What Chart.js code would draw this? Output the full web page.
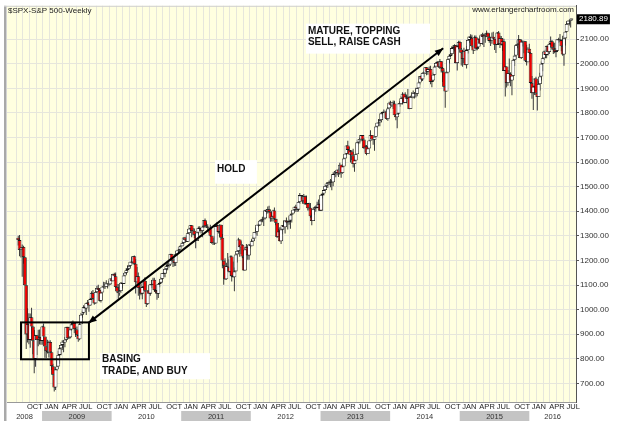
<!DOCTYPE html>
<html>
<head>
<meta charset="utf-8">
<script src="https://cdn.jsdelivr.net/npm/chart.js@4.4.1/dist/chart.umd.min.js"></script>
<style>
  html, body { margin: 0; padding: 0; background: #fff; }
  #wrap { width: 622px; height: 428px; }
</style>
</head>
<body>
<div id="wrap"><canvas id="spx" width="622" height="428"></canvas></div>
<script>
// Weekly $SPX candles, week 0 = week ending Aug 29 2008, last = partial week of Aug 8 2016
const firstWeek = Date.UTC(2008, 7, 29);
const firstOpen = 1292.2;

const weekCloses = [
  // 2008
  1282.8,1242.3,1251.7,1255.1,1213.3,1099.2,899.2,940.6,876.8,968.8,931.0,873.3,800.0,896.2,876.1,879.7,887.9,872.8,
  // 2009
  931.8,890.4,850.1,832.0,825.9, 868.6,826.8,770.1,735.1, 683.4,756.6,768.5,815.9, 842.5,856.6,869.6,866.2,
  877.5,929.2,882.9,887.0,919.1, 940.1,946.2,921.2,918.9, 896.4,879.1,940.4,979.3,987.5, 1010.5,1004.1,1026.1,1028.9,
  1016.4,1042.7,1068.3,1044.4, 1025.2,1071.5,1087.7,1079.6,1036.2, 1069.3,1093.5,1091.4,1091.5, 1106.0,1106.4,1102.5,1126.5,1115.1,
  // 2010
  1145.0,1136.0,1091.8,1073.9, 1066.2,1075.5,1109.2,1104.5, 1138.7,1150.0,1159.9,1166.6, 1178.1,1194.4,1192.1,1217.3,1186.7,
  1110.9,1135.7,1087.7,1089.4, 1064.9,1091.6,1117.5,1076.8, 1022.6,1078.0,1064.9,1102.7,1101.6, 1121.6,1079.3,1071.7,1064.6,
  1104.5,1109.6,1125.6,1148.7, 1146.2,1165.2,1176.2,1183.1,1183.3, 1225.9,1199.2,1199.7,1189.4, 1224.7,1240.4,1243.9,1256.8,1257.6,
  // 2011
  1271.5,1293.2,1283.4,1276.3, 1310.9,1329.2,1343.0,1319.9, 1321.2,1304.3,1279.2,1313.8, 1332.4,1328.2,1319.7,1337.4,1363.6,
  1340.2,1337.8,1333.3,1331.1, 1300.2,1271.0,1271.5,1268.5, 1339.7,1343.8,1316.1,1345.0,1292.3, 1199.4,1178.8,1123.5,1176.8,
  1174.0,1154.2,1216.0,1136.4,1131.4, 1155.5,1224.6,1238.3,1285.1, 1253.2,1263.9,1215.7,1158.7, 1244.3,1255.2,1219.7,1265.3,1257.6,
  // 2012
  1277.8,1289.1,1315.4,1316.3, 1344.9,1342.6,1361.2,1365.7, 1369.6,1370.9,1404.2,1397.1,1408.5, 1398.1,1370.3,1378.5,1403.4,
  1369.1,1353.4,1295.2,1317.8, 1278.0,1325.7,1342.8,1335.0,1362.2, 1354.7,1356.8,1362.7,1386.0, 1391.0,1405.9,1418.2,1411.1,1406.6,
  1437.9,1465.8,1460.2,1440.7, 1460.9,1428.6,1433.2,1411.9, 1414.2,1379.9,1359.9,1409.2,1416.2, 1418.1,1413.6,1430.2,1402.4,
  // 2013
  1466.5,1472.1,1486.0,1503.0, 1513.2,1517.9,1519.8,1515.6, 1518.2,1551.2,1560.7,1556.9,1569.2, 1553.3,1588.9,1555.3,1582.2,
  1614.4,1633.7,1667.5,1649.6,1630.7, 1643.4,1626.7,1592.4,1606.3, 1631.9,1680.2,1692.1,1691.7, 1709.7,1691.4,1655.8,1663.5,1633.0,
  1655.2,1688.0,1709.9,1691.8, 1690.5,1703.2,1744.5,1759.8, 1761.6,1770.6,1798.2,1804.8,1805.8, 1805.1,1775.3,1818.3,1841.4,
  // 2014
  1831.4,1842.4,1838.7,1790.3,1782.6, 1797.0,1838.6,1836.3,1859.5, 1878.0,1841.1,1866.5,1857.6, 1865.1,1815.7,1864.9,1863.4,
  1881.1,1878.5,1877.9,1900.5,1923.6, 1949.4,1936.2,1962.9,1961.0, 1985.4,1967.6,1978.2,1978.3, 1925.2,1931.6,1955.1,1988.4,2003.4,
  2007.7,1985.5,2010.4,1982.9, 1967.9,1906.1,1886.8,1964.6,2018.1, 2031.9,2039.8,2063.5,2067.6, 2075.4,2002.3,2070.7,2088.8,
  // 2015
  2058.2,2044.8,2019.4,2051.8,1995.0, 2055.5,2097.0,2110.3,2104.5, 2071.3,2053.4,2108.1,2061.0, 2067.0,2102.1,2081.2,2117.7,
  2108.3,2116.1,2122.7,2126.1,2107.4, 2092.8,2094.1,2110.0,2101.5, 2076.8,2076.6,2126.6,2079.7,2103.8, 2077.6,2091.5,1970.9,1988.9,
  1921.2,1961.1,1958.1,1931.3, 1951.4,2014.9,2033.1,2075.2,2079.4, 2099.2,2023.0,2089.2,2090.1, 2091.7,2012.4,2005.6,2061.0,2043.9,
  // 2016
  1922.0,1880.3,1906.9,1940.2, 1880.1,1864.8,1917.8,1948.1, 2000.0,2022.2,2049.6,2035.9, 2072.8,2047.6,2080.7,2091.6,2065.3,
  2057.1,2046.6,2052.3,2099.1, 2099.1,2096.1,2071.2,2037.4, 2103.0,2129.9,2161.7,2175.0,2173.6, 2182.9,2180.9
];

const weekHighs = [
  // 2008
  1300.7,1303,1255,1265,1260,1214,1099,1006,985,984,1007.5,933,917,896.5,896,918.6,918.9,890,
  // 2009
  934.7,943.8,890,852,877.9, 873,875,827,780, 739,758.3,804.5,833, 845.6,856.9,875.6,871.8,
  888.7,930.2,930,930.2,920, 951,956.2,946.3,927, 931,898.7,943,979.8,996.7, 1018,1012.6,1027.6,1039.5,
  1030,1048.2,1074.8,1080.2, 1065.6,1073,1096.6,1101.4,1081.1, 1071.3,1096.6,1113.7,1112.4, 1119.1,1107.7,1117.7,1127,1130.4,
  // 2010
  1145.4,1150.4,1150.5,1103.7, 1104.7,1080,1112.4,1112.4, 1139,1153.4,1169.2,1180.7, 1181.4,1194.7,1213.9,1217.3,1219.8,
  1205.1,1173.6,1150.5,1104.5, 1105.7,1094,1119.6,1131.2, 1076.8,1078,1099.1,1103.1,1120, 1129.2,1129.2,1100.1,1077.6,
  1105.1,1112,1131.5,1148.9, 1151.1,1167.7,1184.4,1189.4,1196.1, 1227.1,1227.1,1207.4,1205.1, 1225.6,1240.4,1246.7,1259.3,1262.6,
  // 2011
  1278.2,1293.2,1296.7,1302.7, 1311,1330.6,1344.1,1342.9, 1332.3,1330.1,1306.3,1315.2, 1337.9,1339.5,1328.1,1339.5,1364.6,
  1370.6,1354.4,1346.8,1333.3, 1345.2,1300,1292.5,1298.6, 1341,1356.5,1343.8,1347,1344.3, 1307.4,1199.4,1208.5,1190.7,
  1230.7,1204.4,1220.4,1220.4,1195.9, 1171.4,1224.6,1239,1292.7, 1285.1,1277.6,1266.1,1215.7, 1255.7,1267.1,1255.2,1265.4,1269.4,
  // 2012
  1284.6,1296.8,1315.5,1333.5, 1345.3,1354.3,1363.4,1368.9, 1378,1374.7,1405.9,1409,1419.2, 1422.4,1391.9,1392.8,1406.6,
  1415.3,1369,1354,1328.5, 1334.9,1334.5,1343.3,1363.5,1362.2, 1374.8,1357.6,1380.4,1389.2, 1394.2,1405.9,1419.1,1426.7,1413.5,
  1438,1474.5,1465.8,1460.7, 1470,1464,1464,1433.8, 1434.3,1433.4,1391.4,1409.2,1419.7, 1423.7,1438.6,1448,1430.2,
  // 2013
  1467.9,1472.8,1486,1503.3, 1514.4,1518.3,1524.7,1530.9, 1525.8,1552.5,1563.6,1560.7,1570.3, 1573.7,1597.4,1588.9,1592.6,
  1618.5,1635,1667.5,1687.2,1661.8, 1648.7,1648.7,1654.2,1620, 1632.1,1680.2,1693.1,1698.8, 1709.7,1709.2,1696.8,1669.5,1669.5,
  1664.8,1689,1729.4,1709.9, 1699,1703.4,1745.3,1759.8, 1775.2,1774.5,1798.2,1804.8,1813.6, 1808.4,1811.5,1823.8,1844.9,
  // 2014
  1849.4,1843.2,1850.8,1849.3,1795.2, 1798.8,1838.8,1847.5,1867.9, 1883.6,1878,1883.8,1875.2, 1897.3,1868.4,1869.6,1884.9,
  1891.3,1885.2,1902.2,1901.3,1924, 1949.4,1955.6,1963.9,1968.2, 1985.6,1985.6,1983.9,1989.2, 1991.4,1944.9,1964,1994.8,2005,
  2011.2,2008.5,2019.3,2009.1, 1986.2,1977.6,1912.3,1965.3,2018.2, 2034.3,2041.3,2071.5,2075.8, 2079.5,2075.8,2077.9,2093.5,
  // 2015
  2093.6,2064.4,2056,2064.6,2057.6, 2072.4,2097,2110.6,2119.6, 2117.5,2074.2,2114.9,2114.9, 2088.6,2102.6,2111.9,2120.9,
  2125.9,2120.5,2123.9,2134.7,2126.2, 2121.9,2109.6,2126.6,2130, 2101.5,2085.7,2129.2,2132.8,2114.2, 2112.7,2105,2101.8,1989.6,
  1987,1975,2020.9,1965, 1951.8,2020.1,2033.5,2079.7,2094.3, 2116.5,2097.9,2097.1,2094.1, 2093.8,2090.4,2076.7,2067.4,2081.6,
  // 2016
  2038.2,1950.3,1908.8,1940.2, 1947.2,1881.6,1930.7,1962.9, 2009.1,2022.4,2052.4,2056.6, 2073,2074,2087.8,2111.1,2096.1,
  2083.4,2084.9,2064.1,2099.4, 2105.3,2120.6,2096.1,2113.3, 2104.3,2131.7,2169.1,2175.6,2177.1, 2183.8,2185.4
];

const weekLows = [
  // 2008
  1261,1217,1212,1133.5,1187,1097,839.8,865.8,859.6,845.3,899.7,818.7,741,768,815.7,851.4,857.9,857,
  // 2009
  857.3,888.3,804.3,803.7,821.7, 805.1,823,754,734.5, 666.8,672.9,751,768, 779.8,814.5,836,826.8,
  847,873.4,878.9,881.5,883.8, 915.5,926.6,903.8,888.9, 896,869.3,875.3,940,966.9, 983,990.2,978.5,1016.2,
  991,1016.4,1040,1041.2, 1020.2,1026.3,1066.9,1074.5,1033.4, 1029.4,1069.3,1085,1083.7, 1091.5,1085.9,1095.4,1102.5,1114.8,
  // 2010
  1115,1131.4,1090.2,1071.6, 1044.5,1056.5,1075.5,1086, 1105.4,1134.4,1144.8,1152.3, 1165.2,1175.2,1186.8,1183.7,1181.6,
  1065.8,1111.4,1055.9,1040.8, 1058.2,1042.2,1082.6,1071.6, 1010.9,1018.3,1063.3,1056.9,1088, 1101.6,1076.6,1069.4,1039.7,
  1047.1,1091.1,1107.4,1122.8, 1131.9,1131.9,1159.7,1159.7,1171.7, 1177.7,1194.1,1173,1176.8, 1177,1219.7,1232.8,1238.2,1254,
  // 2011
  1257.6,1262.7,1271.3,1275.1, 1276.3,1302.4,1324.6,1294.3, 1302.6,1291,1249.1,1279.2, 1304,1321.6,1309.5,1294.7,1332.6,
  1332.6,1332.2,1318.5,1311.8, 1297.7,1268.2,1262.7,1262.9, 1268.5,1333.2,1309.7,1295.9,1282.9, 1168.1,1101.5,1120.1,1121.1,
  1170.9,1150.5,1136.2,1114.2,1131, 1074.8,1155.5,1191.5,1234.5, 1215.4,1226.6,1209.4,1158.7, 1158.7,1231.5,1202.4,1202.4,1248.6,
  // 2012
  1257.6,1274.6,1290.2,1306.1, 1300.5,1335.9,1340.1,1355.9, 1354.9,1340,1366.7,1386.9,1391.3, 1392.9,1357.4,1358.8,1358.8,
  1367,1343.1,1291.4,1295.2, 1277.3,1266.7,1306.6,1324.4,1309.3, 1350.6,1325.4,1345.1,1329.2, 1354.7,1391,1397.7,1398,1397,
  1398.9,1429.1,1449.6,1430.5, 1440.7,1425.5,1426,1403.3, 1403,1373,1343.4,1359.9,1385.4, 1398.1,1411.9,1413.5,1401.6,
  // 2013
  1401.6,1451.6,1463.8,1482.6, 1495,1495,1506.6,1497.3, 1485,1501.5,1547.4,1538.6,1546.2, 1539.5,1548,1536,1553,
  1581.3,1613.4,1627.7,1635.5,1630.7, 1598.2,1608.1,1577.7,1560.3, 1604.6,1631.9,1671.8,1676, 1684.4,1685.9,1654.2,1639.4,1627.5,
  1633,1655.2,1688,1687.6, 1670.4,1646.5,1703.2,1740.5, 1746.5,1746.2,1760.6,1780.2,1799.7, 1779.1,1772.3,1768,1818.3,
  // 2014
  1827.7,1823.7,1815.5,1790.3,1770.5, 1737.9,1791.8,1825.3,1834.4, 1834.4,1839.6,1841.1,1839.6, 1857.6,1814.4,1815.8,1859.7,
  1859.8,1859,1862.4,1868.1,1900.5, 1915.9,1930,1930,1944.7, 1958.2,1952.9,1955.6,1968.7, 1916.4,1904.8,1928.3,1956.2,1988.4,
  1990.5,1983.7,1978.5,1963.9, 1926,1905,1820.7,1886.8,1961, 2001,2025.9,2034.5,2057.4, 2049.6,2002.3,1972.6,2069.3,
  // 2015
  2046,1992.4,1988.1,2002.5,1994, 1980.9,2041.9,2085.4,2098.3, 2067.3,2039.7,2053.4,2055.1, 2055,2060.5,2072.4,2081.2,
  2077,2067.9,2085.7,2120.9,2099.2, 2085.7,2072.1,2081.4,2100.8, 2056.3,2044,2076.6,2077.3,2063.5, 2074,2052,1970.9,1867,
  1903,1910.5,1938,1908.8, 1871.9,1951.4,1990.7,2018.9,2062.5, 2080.3,2022,2019.4,2070.3, 2042.4,2011.5,1993.3,2005.6,2043.6,
  // 2016
  1918.5,1857.8,1812.3,1872.7, 1872.6,1810.1,1864.8,1891, 1931.8,1969.3,2015,2022.5, 2022.6,2033.8,2039.7,2078.5,2057.7,
  2039.7,2043.1,2025.9,2047.9, 2085.1,2089.7,2050.4,2032.6, 1991.7,2074,2135.6,2159,2155.8, 2147.6,2177.9
];

const priceTicks = [700, 800, 900, 1000, 1100, 1200, 1300, 1400, 1500, 1600, 1700, 1800, 1900, 2000, 2100];
const quarterMonths = [0, 3, 6, 9];
const monthNames = ["JAN", "APR", "JUL", "OCT"];
const years = [2008, 2009, 2010, 2011, 2012, 2013, 2014, 2015, 2016];
const lastPrice = "2180.89";
const chartTitle = "$SPX-S&P 500-Weekly";
const siteName = "www.erlangerchartroom.com";

// annotations, in (week index, price) units
const noteBox = { i0: 2.1, i1: 53, p0: 798, p1: 948 };
const noteArrow = { i0: 52.5, p0: 945, i1: 318.5, p1: 2063 };
const noteTexts = [
  { i0: 215.6, i1: 308.6, p0: 2163, p1: 2041, lines: ["MATURE, TOPPING", "SELL, RAISE CASH"], ti: 217.1, tp: [2134, 2086] },
  { i0: 147.5, i1: 178.9, p0: 1608, p1: 1512, lines: ["HOLD"], ti: 149, tp: [1571] },
  { i0: 61.3, i1: 143.7, p0: 823, p1: 717, lines: ["BASING", "TRADE, AND BUY"], ti: 62.8, tp: [798, 750] }
];

const WEEK_MS = 7 * 86400000;
const weekOf = (y, m) => (Date.UTC(y, m, 1) - firstWeek) / WEEK_MS;

// build candle pieces
const wickData = [];
const bodyData = [];
const bodyColors = [];
weekCloses.forEach((c, i) => {
    const o = i === 0 ? firstOpen : weekCloses[i - 1];
    const hi = Math.max(weekHighs[i], o, c);
    const lo = Math.min(weekLows[i], o, c);
    wickData.push({ x: i, y: [lo, hi] });
    bodyData.push({ x: i, y: [o, c] });
    bodyColors.push(c < o ? "#ee0000" : "#ffffff");
});

const gridWeeks = [];
for (let w = 1; w < weekCloses.length + 3; w += 5) gridWeeks.push(w);

const FONT = "'Liberation Sans', Arial, sans-serif";

const decorPlugin = {
    id: "decor",
    beforeDraw(chart) {
        const { ctx, chartArea: a } = chart;
        ctx.save();
        ctx.fillStyle = "#ffffff";
        ctx.fillRect(0, 0, chart.width, chart.height);
        ctx.fillStyle = "#ffffe0";
        ctx.fillRect(a.left, a.top, a.right - a.left, a.bottom - a.top);
        ctx.restore();
    },
    afterDatasetsDraw(chart) {
        const { ctx } = chart;
        const xs = chart.scales.x, ys = chart.scales.y;
        const px = v => xs.getPixelForValue(v);
        const py = v => ys.getPixelForValue(v);
        ctx.save();

        // basing box
        ctx.strokeStyle = "#000";
        ctx.lineWidth = 2;
        ctx.strokeRect(px(noteBox.i0), py(noteBox.p1), px(noteBox.i1) - px(noteBox.i0), py(noteBox.p0) - py(noteBox.p1));

        // double arrow
        const x0 = px(noteArrow.i0), y0 = py(noteArrow.p0), x1 = px(noteArrow.i1), y1 = py(noteArrow.p1);
        ctx.beginPath();
        ctx.moveTo(x0, y0);
        ctx.lineTo(x1, y1);
        ctx.stroke();
        const head = (tx, ty, fx, fy) => {
            const ang = Math.atan2(ty - fy, tx - fx);
            const len = 9, half = 0.38;
            ctx.beginPath();
            ctx.moveTo(tx, ty);
            ctx.lineTo(tx - len * Math.cos(ang - half), ty - len * Math.sin(ang - half));
            ctx.lineTo(tx - len * Math.cos(ang + half), ty - len * Math.sin(ang + half));
            ctx.closePath();
            ctx.fillStyle = "#000";
            ctx.fill();
        };
        head(x0, y0, x1, y1);
        head(x1, y1, x0, y0);

        // text notes
        noteTexts.forEach(n => {
            ctx.fillStyle = "#ffffff";
            ctx.fillRect(px(n.i0), py(n.p0), px(n.i1) - px(n.i0), py(n.p1) - py(n.p0));
            ctx.fillStyle = "#111";
            ctx.font = "bold 10px " + FONT;
            ctx.textAlign = "left";
            ctx.textBaseline = "middle";
            n.lines.forEach((t, k) => ctx.fillText(t, px(n.ti), py(n.tp[k])));
        });
        ctx.restore();
    },
    afterDraw(chart) {
        const { ctx, chartArea: a } = chart;
        const xs = chart.scales.x;
        ctx.save();

        // frame edges
        ctx.fillStyle = "#a9a9a9";
        ctx.fillRect(a.left - 3, a.top, 2.5, 421 - a.top);
        ctx.strokeStyle = "#d0d0d0";
        ctx.lineWidth = 1;
        ctx.beginPath();
        ctx.moveTo(a.left - 3, a.top + 0.5);
        ctx.lineTo(a.right, a.top + 0.5);
        ctx.stroke();

        // header texts
        ctx.font = "8px " + FONT;
        ctx.fillStyle = "#222";
        ctx.textBaseline = "middle";
        ctx.textAlign = "left";
        ctx.fillText(chartTitle, a.left + 1, 11);
        ctx.textAlign = "right";
        ctx.fillText(siteName, a.right - 2, 10);

        // last price tag
        const yp = chart.scales.y.getPixelForValue(2180.89);
        ctx.textAlign = "left";
        const tw = ctx.measureText(lastPrice).width;
        ctx.fillStyle = "#000";
        ctx.fillRect(a.right + 1, yp - 5, tw + 4, 10);
        ctx.fillStyle = "#fff";
        ctx.fillText(lastPrice, a.right + 3, yp);

        // quarter month labels
        ctx.fillStyle = "#222";
        ctx.font = "7.5px " + FONT;
        ctx.textAlign = "left";
        years.forEach(y => {
            quarterMonths.forEach((m, k) => {
                const w = weekOf(y, m);
                if (w < xs.min || w > xs.max - 2) return;
                ctx.fillText(monthNames[k], xs.getPixelForValue(w) + 2.5, 407);
            });
        });

        // year band
        years.forEach(y => {
            const l = Math.max(a.left, xs.getPixelForValue(weekOf(y, 0)));
            const r = Math.min(a.right, xs.getPixelForValue(weekOf(y + 1, 0)));
            if (r <= l) return;
            if (y % 2 === 1) {
                ctx.fillStyle = "#c4c4c4";
                ctx.fillRect(l, 411, r - l, 10);
            }
            ctx.fillStyle = "#333";
            ctx.textAlign = "center";
            ctx.fillText(String(y), (l + r) / 2, 416.5);
        });
        ctx.restore();
    }
};

new Chart(document.getElementById("spx"), {
    type: "bar",
    data: {
        datasets: [
            {
                label: "body",
                data: bodyData,
                backgroundColor: bodyColors,
                borderColor: "#1a1a1a",
                borderWidth: 0.8,
                borderSkipped: false,
                barThickness: 3.8,
                inflateAmount: 0,
                grouped: false,
                order: 1
            },
            {
                label: "wick",
                data: wickData,
                backgroundColor: "#3a3a3a",
                borderWidth: 0,
                barThickness: 1,
                inflateAmount: 0,
                grouped: false,
                order: 2
            }
        ]
    },
    options: {
        responsive: false,
        animation: false,
        events: [],
        layout: { padding: { left: 7, top: 4, right: 0, bottom: 0 } },
        plugins: {
            legend: { display: false },
            tooltip: { enabled: false }
        },
        scales: {
            x: {
                type: "linear",
                min: -8.4,
                max: 418,
                offset: false,
                afterBuildTicks: s => { s.ticks = gridWeeks.map(v => ({ value: v })); },
                ticks: { display: false },
                grid: { color: "#e6e6dc", drawTicks: false, lineWidth: 1 },
                border: { color: "#999999" },
                afterFit: s => { s.height = 26; }
            },
            y: {
                position: "right",
                min: 624.3,
                max: 2235.6,
                afterBuildTicks: s => { s.ticks = priceTicks.map(v => ({ value: v })); },
                ticks: {
                    callback: v => Number(v).toFixed(2),
                    color: "#333",
                    font: { family: FONT, size: 8 },
                    padding: 1
                },
                grid: { color: "#e6e6dc", tickColor: "#555", tickLength: 3 },
                border: { color: "#555", width: 1 },
                afterFit: s => { s.width = 46; }
            }
        }
    },
    plugins: [decorPlugin]
});
</script>
</body>
</html>
